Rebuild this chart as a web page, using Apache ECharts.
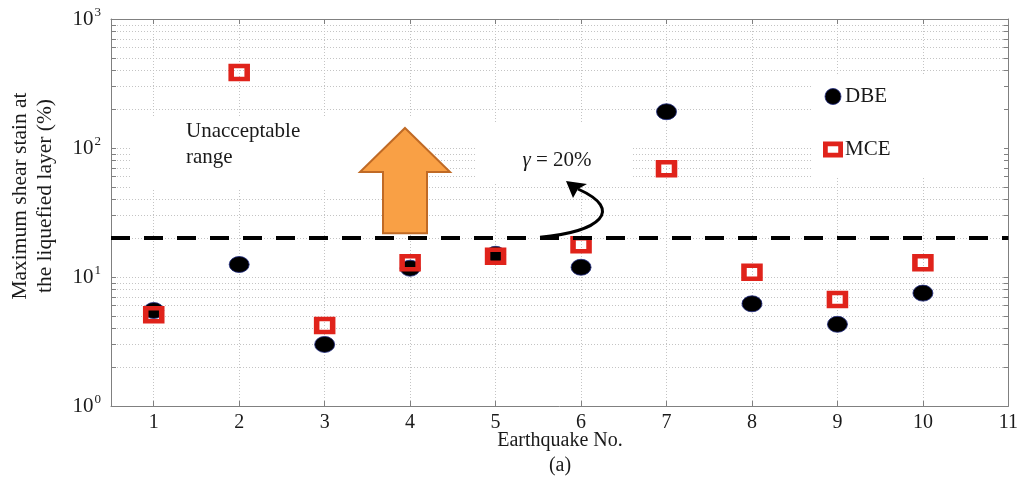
<!DOCTYPE html>
<html>
<head>
<meta charset="utf-8">
<script src="https://cdn.jsdelivr.net/npm/echarts@6/dist/echarts.min.js"></script>
<style>
  html, body { margin: 0; padding: 0; background: #ffffff; }
  #chart { width: 1021px; height: 483px; }
</style>
</head>
<body>
<div id="chart"></div>
<script>
// Earthquake records and peak shear strain in the liquefied layer (%)
const quakes = [1, 2, 3, 4, 5, 6, 7, 8, 9, 10];
const dbe = [5.5, 12.5, 3.0, 11.7, 15.0, 11.9, 191, 6.2, 4.3, 7.5];
const mce = [5.1, 385, 4.2, 12.9, 14.5, 17.8, 69, 10.9, 6.7, 12.9];

// Acceptance limit (gamma = 20 %)
const threshold = 20;

// Axis ticks
const xTicks = [1, 2, 3, 4, 5, 6, 7, 8, 9, 10, 11];
const yMajor = [1, 10, 100, 1000];
const yGrid = [1, 2, 3, 4, 5, 6, 7, 8, 9,
               10, 20, 30, 40, 50, 60, 70, 80, 90,
               100, 200, 300, 400, 500, 600, 700, 800, 900, 1000];

const SERIF = 'Liberation Serif';
const FRAME = '#808080';
const GRID = '#c4c4c4';
const TXT = '#1a1a1a';
const RED = '#e0231b';

// Hollow square used as the MCE legend key
const RING_ICON = 'path://M0,0H21V17H0Z M5,5V12H16V5Z';

const chart = echarts.init(document.getElementById('chart'), null, { renderer: 'canvas' });

const tickStyle = { show: true, inside: true, length: 5, lineStyle: { color: FRAME, width: 1 } };
const frameLine = { show: true, onZero: false, lineStyle: { color: FRAME, width: 1 } };

chart.setOption({
  animation: false,
  backgroundColor: '#ffffff',
  grid: { left: 111, right: 11, top: 19, bottom: 77, containLabel: false },
  xAxis: [
    {
      type: 'value', position: 'bottom', min: 0.5, max: 11,
      axisLine: frameLine,
      axisTick: Object.assign({ customValues: xTicks }, tickStyle),
      axisLabel: { customValues: xTicks, margin: 7, fontFamily: SERIF, fontSize: 20, color: TXT },
      splitLine: { show: true, lineStyle: { color: GRID, type: [1, 2], width: 1 } }
    },
    {
      type: 'value', position: 'top', min: 0.5, max: 11,
      axisLine: frameLine,
      axisTick: Object.assign({ customValues: xTicks }, tickStyle),
      axisLabel: { show: false },
      splitLine: { show: false }
    }
  ],
  yAxis: [
    {
      type: 'log', logBase: 10, min: 1, max: 1000, position: 'left',
      axisLine: frameLine,
      axisTick: Object.assign({ customValues: yGrid }, tickStyle),
      axisLabel: {
        customValues: yMajor, margin: 10,
        formatter: v => '{b|10}{s|' + Math.round(Math.log10(v)) + '}',
        rich: {
          b: { fontFamily: SERIF, fontSize: 21, color: TXT, lineHeight: 26, verticalAlign: 'middle' },
          s: { fontFamily: SERIF, fontSize: 13, color: TXT, lineHeight: 26, verticalAlign: 'top', padding: [0, 0, 0, 1] }
        }
      },
      splitLine: { show: true, lineStyle: { color: GRID, type: [1, 2], width: 1 } }
    },
    {
      type: 'log', logBase: 10, min: 1, max: 1000, position: 'right',
      axisLine: frameLine,
      axisTick: Object.assign({ customValues: yGrid }, tickStyle),
      axisLabel: { show: false },
      splitLine: { show: false }
    }
  ],
  legend: {
    orient: 'vertical', left: 823, top: 86,
    itemWidth: 20, itemHeight: 16, itemGap: 32,
    symbolKeepAspect: false,
    padding: 0, z: 6,
    textStyle: { fontFamily: SERIF, fontSize: 21, color: TXT, padding: [0, 0, 0, -3] },
    data: [
      { name: 'DBE', icon: 'circle', itemStyle: { borderWidth: 0.8 } },
      { name: 'MCE', icon: RING_ICON, itemStyle: { color: RED, borderWidth: 0 } }
    ]
  },
  series: [
    {
      name: 'DBE', type: 'scatter', z: 3,
      symbol: 'circle', symbolSize: [20, 16],
      itemStyle: { color: '#000000', borderColor: '#1f2a80', borderWidth: 0.8, opacity: 1 },
      data: quakes.map((q, i) => [q, dbe[i]]),
      markLine: {
        silent: true, symbol: 'none', z: 5,
        label: { show: false },
        lineStyle: { color: '#000000', width: 4, type: [19, 14] },
        data: [{ yAxis: threshold }]
      }
    },
    {
      name: 'MCE', type: 'scatter', z: 4,
      symbol: 'rect', symbolSize: [16, 13],
      itemStyle: { color: 'rgba(0,0,0,0)', borderColor: RED, borderWidth: 5, opacity: 1 },
      data: quakes.map((q, i) => [q, mce[i]])
    }
  ]
});

// Annotations: white label panels, the orange "unacceptable" arrow and the gamma call-out
const ly = chart.convertToPixel({ yAxisIndex: 0 }, threshold);
const curveStart = [540, ly - 1];

chart.setOption({
  graphic: [
    { type: 'rect', z: 1, silent: true, shape: { x: 131, y: 116, width: 292, height: 74 }, style: { fill: '#ffffff' } },
    { type: 'rect', z: 1, silent: true, shape: { x: 476, y: 124, width: 157, height: 58 }, style: { fill: '#ffffff' } },
    { type: 'rect', z: 1, silent: true, shape: { x: 813, y: 74, width: 191, height: 104 }, style: { fill: '#ffffff' } },
    {
      type: 'text', z: 10, silent: true, x: 186, y: 131,
      style: { text: 'Unacceptable', font: '21px "Liberation Serif"', fill: TXT, align: 'left', verticalAlign: 'middle' }
    },
    {
      type: 'text', z: 10, silent: true, x: 186, y: 157,
      style: { text: 'range', font: '21px "Liberation Serif"', fill: TXT, align: 'left', verticalAlign: 'middle' }
    },
    {
      type: 'polygon', z: 10, silent: true,
      shape: { points: [[405, 128], [450, 172], [427, 172], [427, ly - 5], [383, ly - 5], [383, 172], [360, 172]] },
      style: { fill: '#f9a045', stroke: '#c06a25', lineWidth: 2 }
    },
    {
      type: 'text', z: 10, silent: true, x: 557, y: 160,
      style: {
        text: '{g|γ}{t| = 20%}', align: 'center', verticalAlign: 'middle',
        rich: {
          g: { fontFamily: SERIF, fontStyle: 'italic', fontSize: 21, fill: TXT },
          t: { fontFamily: SERIF, fontSize: 21, fill: TXT }
        }
      }
    },
    {
      type: 'bezierCurve', z: 10, silent: true,
      shape: { x1: curveStart[0], y1: curveStart[1], cpx1: 600, cpy1: ly - 6, cpx2: 625, cpy2: 210, x2: 578, y2: 189 },
      style: { stroke: '#000000', lineWidth: 3, fill: null }
    },
    {
      type: 'polygon', z: 10, silent: true,
      shape: { points: [[566, 181], [587, 184], [578, 189], [573, 198]] },
      style: { fill: '#000000' }
    },
    {
      type: 'text', z: 10, silent: true, x: 33, y: 196, rotation: Math.PI / 2,
      style: {
        text: 'Maximum shear stain at\nthe liquefied layer (%)',
        font: '21.5px "Liberation Serif"', lineHeight: 25, fill: TXT, align: 'center', verticalAlign: 'middle'
      }
    },
    {
      type: 'text', z: 10, silent: true, x: 560, y: 441,
      style: { text: 'Earthquake No.', font: '20px "Liberation Serif"', fill: TXT, align: 'center', verticalAlign: 'middle' }
    },
    {
      type: 'text', z: 10, silent: true, x: 560, y: 466,
      style: { text: '(a)', font: '20px "Liberation Serif"', fill: TXT, align: 'center', verticalAlign: 'middle' }
    }
  ]
});
</script>
</body>
</html>
